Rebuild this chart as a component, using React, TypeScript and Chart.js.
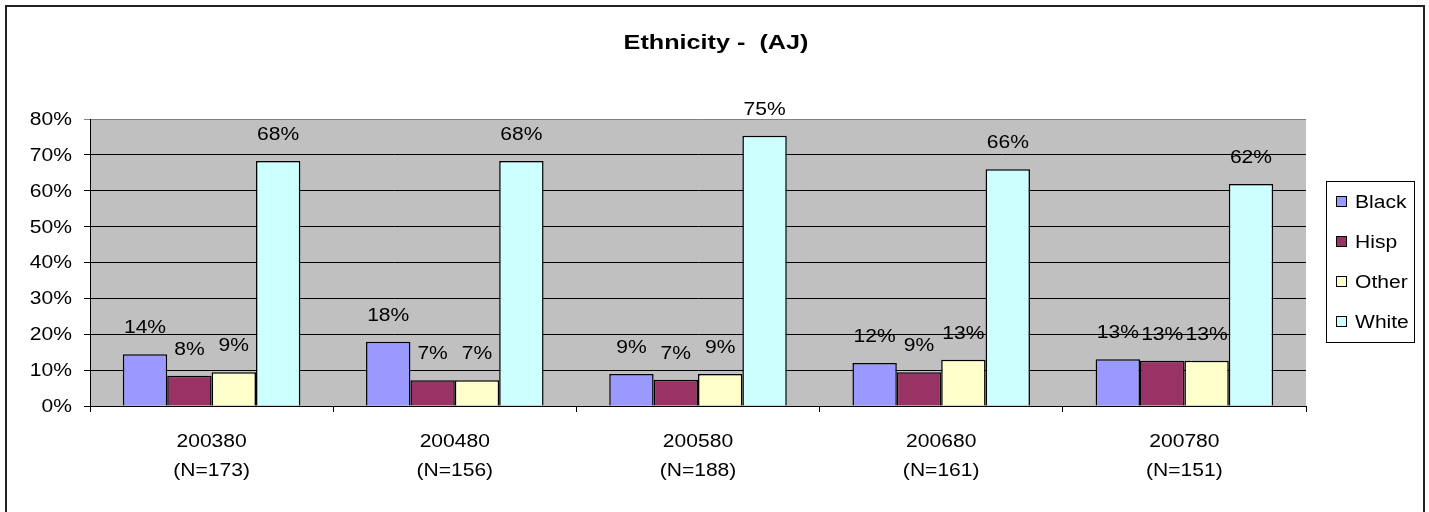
import React, { useEffect, useRef } from "react";
import { Chart, registerables } from "chart.js";

Chart.register(...registerables);

const categories: string[][] = [
  ["200380", "(N=173)"],
  ["200480", "(N=156)"],
  ["200580", "(N=188)"],
  ["200680", "(N=161)"],
  ["200780", "(N=151)"],
];
const seriesNames = ["Black", "Hisp", "Other", "White"];
const blackValues = [14.4, 17.9, 8.9, 12.0, 13.0];
const hispValues = [8.4, 7.2, 7.3, 9.4, 12.6];
const otherValues = [9.4, 7.2, 8.9, 12.9, 12.6];
const whiteValues = [68.3, 68.3, 75.3, 66.0, 61.9];
const seriesColors = ["#9999FF", "#993366", "#FFFFCC", "#CCFFFF"];
const yTicks = [0, 10, 20, 30, 40, 50, 60, 70, 80];
const titleText = "Ethnicity -  (AJ)";

const FONT = "'Liberation Sans', Arial, sans-serif";
const SX = 1.17;

function drawText(
  ctx: CanvasRenderingContext2D,
  text: string,
  x: number,
  y: number,
  align: CanvasTextAlign,
  font: string,
  sx: number
) {
  ctx.save();
  ctx.translate(x, y);
  ctx.scale(sx, 1);
  ctx.font = font;
  ctx.textAlign = align;
  ctx.textBaseline = "middle";
  ctx.fillStyle = "#000";
  ctx.fillText(text, 0, 0);
  ctx.restore();
}

export default function App() {
  const ref = useRef<HTMLCanvasElement | null>(null);

  useEffect(() => {
    if (!ref.current) return;

    const decorPlugin = {
      id: "decor",
      beforeDraw(chart: any) {
        const ctx = chart.ctx;
        ctx.save();
        ctx.fillStyle = "#FFFFFF";
        ctx.fillRect(0, 0, chart.width, chart.height);
        const a = chart.chartArea;
        ctx.fillStyle = "#C0C0C0";
        ctx.fillRect(a.left, a.top, a.right - a.left, a.bottom - a.top);
        ctx.restore();
      },
      afterDraw(chart: any) {
        const ctx = chart.ctx;
        const font = `18px ${FONT}`;
        ctx.save();
        // outer border
        ctx.strokeStyle = "#222";
        ctx.lineWidth = 2;
        ctx.strokeRect(6, 6, 1418, 600);
        ctx.restore();
        // title
        drawText(ctx, titleText, 716, 43, "center", `bold 21px ${FONT}`, 1.2);
        // y tick labels
        const ys = chart.scales.y;
        yTicks.forEach((v) => {
          drawText(ctx, `${v}%`, 72, ys.getPixelForValue(v) + 1, "right", font, SX);
        });
        // x tick labels
        const xs = chart.scales.x;
        categories.forEach((lines, i) => {
          const cx = xs.getPixelForValue(i);
          lines.forEach((line, j) => {
            drawText(ctx, line, cx, 442 + j * 29, "center", font, SX);
          });
        });
        // legend
        ctx.save();
        ctx.lineWidth = 1;
        ctx.strokeStyle = "#000";
        ctx.strokeRect(1326.5, 181.5, 88, 161);
        seriesNames.forEach((name, i) => {
          const cy = 202 + i * 40;
          ctx.fillStyle = seriesColors[i];
          ctx.fillRect(1336, cy - 6, 11, 11);
          ctx.strokeStyle = "#000";
          ctx.strokeRect(1336.5, cy - 5.5, 10, 10);
        });
        ctx.restore();
        seriesNames.forEach((name, i) => {
          drawText(ctx, name, 1355, 202 + i * 40 + 1, "left", font, SX);
        });
      },
      afterDatasetsDraw(chart: any) {
        const ctx = chart.ctx;
        const font = `18px ${FONT}`;
        chart.data.datasets.forEach((ds: any, di: number) => {
          const meta = chart.getDatasetMeta(di);
          meta.data.forEach((bar: any, i: number) => {
            const v = ds.data[i];
            drawText(ctx, `${Math.round(v)}%`, bar.x, bar.y - 26, "center", font, SX);
          });
        });
      },
    };

    const allSeries = [blackValues, hispValues, otherValues, whiteValues];

    const chart = new Chart(ref.current, {
      type: "bar",
      data: {
        labels: categories,
        datasets: seriesNames.map((name, i) => ({
          label: name,
          data: allSeries[i],
          backgroundColor: seriesColors[i],
          borderColor: "#000",
          borderWidth: 1.5,
          categoryPercentage: 0.73,
          barPercentage: 1,
        })),
      },
      options: {
        responsive: false,
        animation: false,
        devicePixelRatio: 1,
        layout: { padding: { top: 119, right: 123, left: 0, bottom: 0 } },
        plugins: {
          legend: { display: false },
          title: { display: false },
          tooltip: { enabled: false },
        },
        scales: {
          x: {
            grid: {
              offset: true,
              drawOnChartArea: false,
              drawTicks: true,
              tickLength: 6,
              color: "#000",
            },
            border: { color: "#000", width: 1 },
            ticks: { display: false },
            afterFit(scale: any) {
              scale.height = 106;
            },
          },
          y: {
            min: 0,
            max: 80,
            afterBuildTicks(scale: any) {
              scale.ticks = yTicks.map((v) => ({ value: v }));
            },
            grid: {
              color: (c: any) => (c.tick && c.tick.value === 80 ? "#808080" : "#000"),
              tickLength: 6,
              drawTicks: true,
            },
            border: { color: "#000", width: 1 },
            ticks: { display: false },
            afterFit(scale: any) {
              scale.width = 90;
            },
          },
        },
      },
      plugins: [decorPlugin],
    });

    return () => chart.destroy();
  }, []);

  return (
    <div style={{ position: "absolute", left: 0, top: 0, width: 1429, height: 512 }}>
      <canvas ref={ref} width={1429} height={512} style={{ display: "block" }} />
    </div>
  );
}
